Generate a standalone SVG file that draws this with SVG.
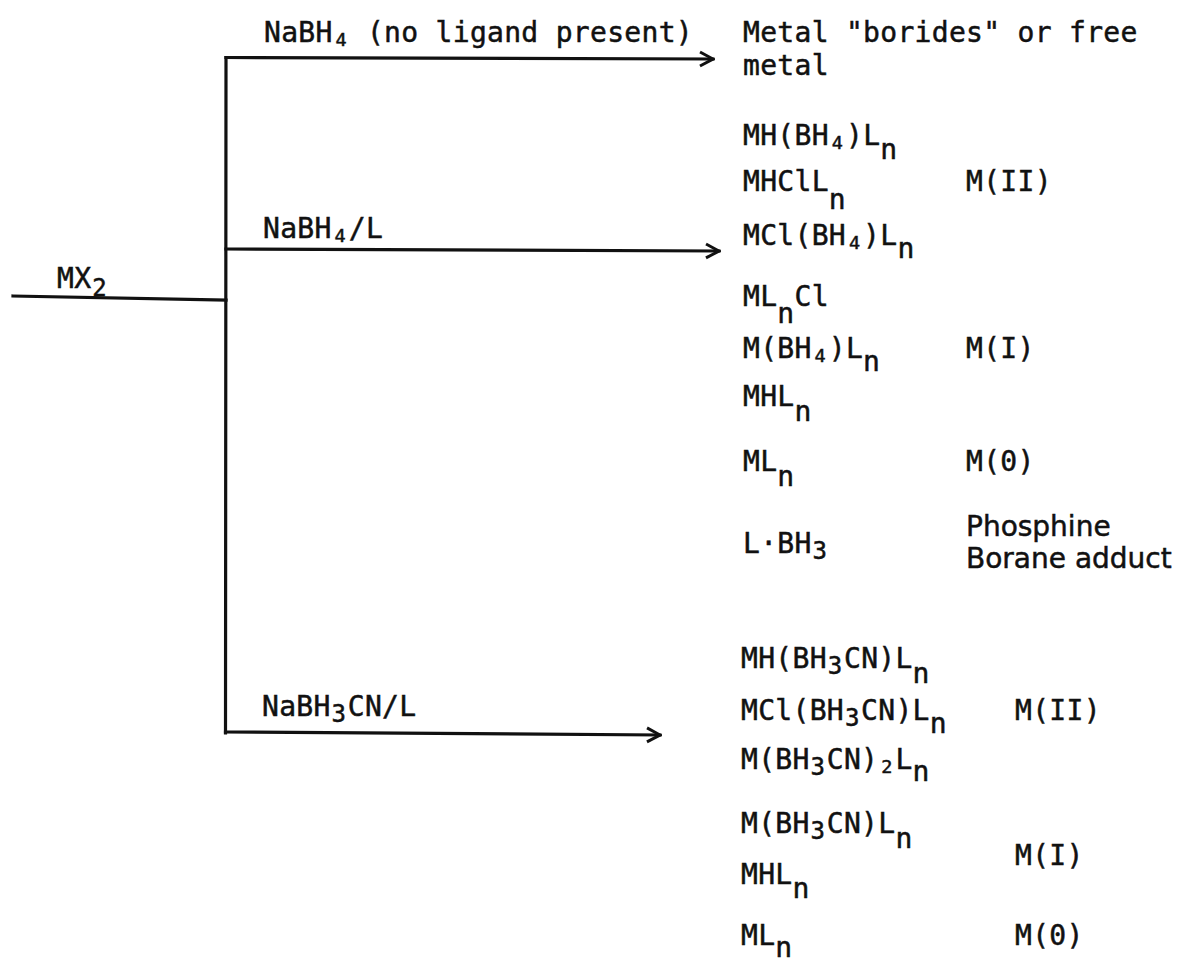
<svg xmlns="http://www.w3.org/2000/svg" width="1183" height="962" viewBox="0 0 1183 962">
<defs>
<style>
.m{font-family:"DejaVu Sans Mono",monospace;font-size:28px;letter-spacing:0.3px;fill:#111;stroke:#111;stroke-width:0.5}
.p{font-family:"DejaVu Sans",sans-serif;font-size:28px;fill:#111;stroke:#111;stroke-width:0.5}
.s4{font-size:18.5px;letter-spacing:0}
.s3{font-size:24px;letter-spacing:0}
.ln{fill:none;stroke:#111;stroke-width:3.2;stroke-linecap:square}
</style>
<marker id="arr" markerWidth="16" markerHeight="18" refX="14" refY="9" orient="auto" markerUnits="userSpaceOnUse">
<path d="M1,2 L14,9 L1,16" fill="none" stroke="#111" stroke-width="3"/>
</marker>
</defs>
<rect width="1183" height="962" fill="#fff"/>
<g id="connectors">
<path class="ln" d="M13,296 L226,300"/>
<path class="ln" d="M226,57.5 L225.5,733"/>
<path class="ln" d="M226,57.5 L713,59" marker-end="url(#arr)"/>
<path class="ln" d="M226,249 L719,251" marker-end="url(#arr)"/>
<path class="ln" d="M225.5,732 L660,735" marker-end="url(#arr)"/>
</g>
<g id="reagent-labels">
<text class="m" x="264" y="42">NaBH<tspan class="s4" x="335.6" y="46">4</tspan><tspan x="349.8" y="42"> (no ligand present)</tspan></text>
<text class="m" x="263" y="238">NaBH<tspan class="s4" x="334.6" y="242">4</tspan><tspan x="348.8" y="238">/L</tspan></text>
<text class="m" x="262" y="716">NaBH<tspan class="s3" x="331.6" y="722">3</tspan><tspan x="347.8" y="716">CN/L</tspan></text>
</g>
<g id="node-mx2">
<text class="m" x="57" y="288">MX<tspan class="s3" x="92.3" y="296">2</tspan></text>
</g>
<g id="node-borides">
<text class="m" x="743" y="42">Metal "borides" or free</text>
<text class="m" x="743" y="75">metal</text>
</g>
<g id="node-nabh4-l-products">
<text class="m" x="743" y="145">MH(BH<tspan class="s4" x="831.8" y="149">4</tspan><tspan x="846" y="145">)L</tspan><tspan x="880.3" y="159">n</tspan></text>
<text class="m" x="743" y="191">MHClL<tspan x="828.8" y="209">n</tspan></text>
<text class="m" x="743" y="245">MCl(BH<tspan class="s4" x="849" y="249">4</tspan><tspan x="863.1" y="245">)L</tspan><tspan x="897.4" y="258">n</tspan></text>
<text class="m" x="966" y="191">M(II)</text>
<text class="m" x="743" y="306">ML<tspan x="777.3" y="323">n</tspan><tspan x="794.5" y="306">Cl</tspan></text>
<text class="m" x="743" y="358">M(BH<tspan class="s4" x="814.6" y="362">4</tspan><tspan x="828.8" y="358">)L</tspan><tspan x="863.1" y="371">n</tspan></text>
<text class="m" x="743" y="406">MHL<tspan x="794.5" y="421">n</tspan></text>
<text class="m" x="966" y="358">M(I)</text>
<text class="m" x="743" y="471">ML<tspan x="777.3" y="486">n</tspan></text>
<text class="m" x="966" y="471">M(0)</text>
<text class="m" x="743" y="553">L·BH<tspan class="s3" x="812.6" y="559">3</tspan></text>
<text class="p" x="966" y="536">Phosphine</text>
<text class="p" x="966" y="568">Borane adduct</text>
</g>
<g id="node-nabh3cn-products">
<text class="m" x="741" y="668">MH(BH<tspan class="s3" x="827.8" y="674">3</tspan><tspan x="844" y="668">CN)L</tspan><tspan x="912.6" y="683">n</tspan></text>
<text class="m" x="741" y="720">MCl(BH<tspan class="s3" x="845" y="726">3</tspan><tspan x="861.1" y="720">CN)L</tspan><tspan x="929.8" y="733">n</tspan></text>
<text class="m" x="741" y="769">M(BH<tspan class="s3" x="810.6" y="775">3</tspan><tspan x="826.8" y="769">CN)</tspan><tspan class="s4" x="881.3" y="773">2</tspan><tspan x="895.4" y="769">L</tspan><tspan x="912.6" y="781">n</tspan></text>
<text class="m" x="1015" y="720">M(II)</text>
<text class="m" x="741" y="833">M(BH<tspan class="s3" x="810.6" y="839">3</tspan><tspan x="826.8" y="833">CN)L</tspan><tspan x="895.4" y="848">n</tspan></text>
<text class="m" x="741" y="884">MHL<tspan x="792.5" y="898">n</tspan></text>
<text class="m" x="1015" y="865">M(I)</text>
<text class="m" x="741" y="945">ML<tspan x="775.3" y="957">n</tspan></text>
<text class="m" x="1015" y="945">M(0)</text>
</g>
</svg>
